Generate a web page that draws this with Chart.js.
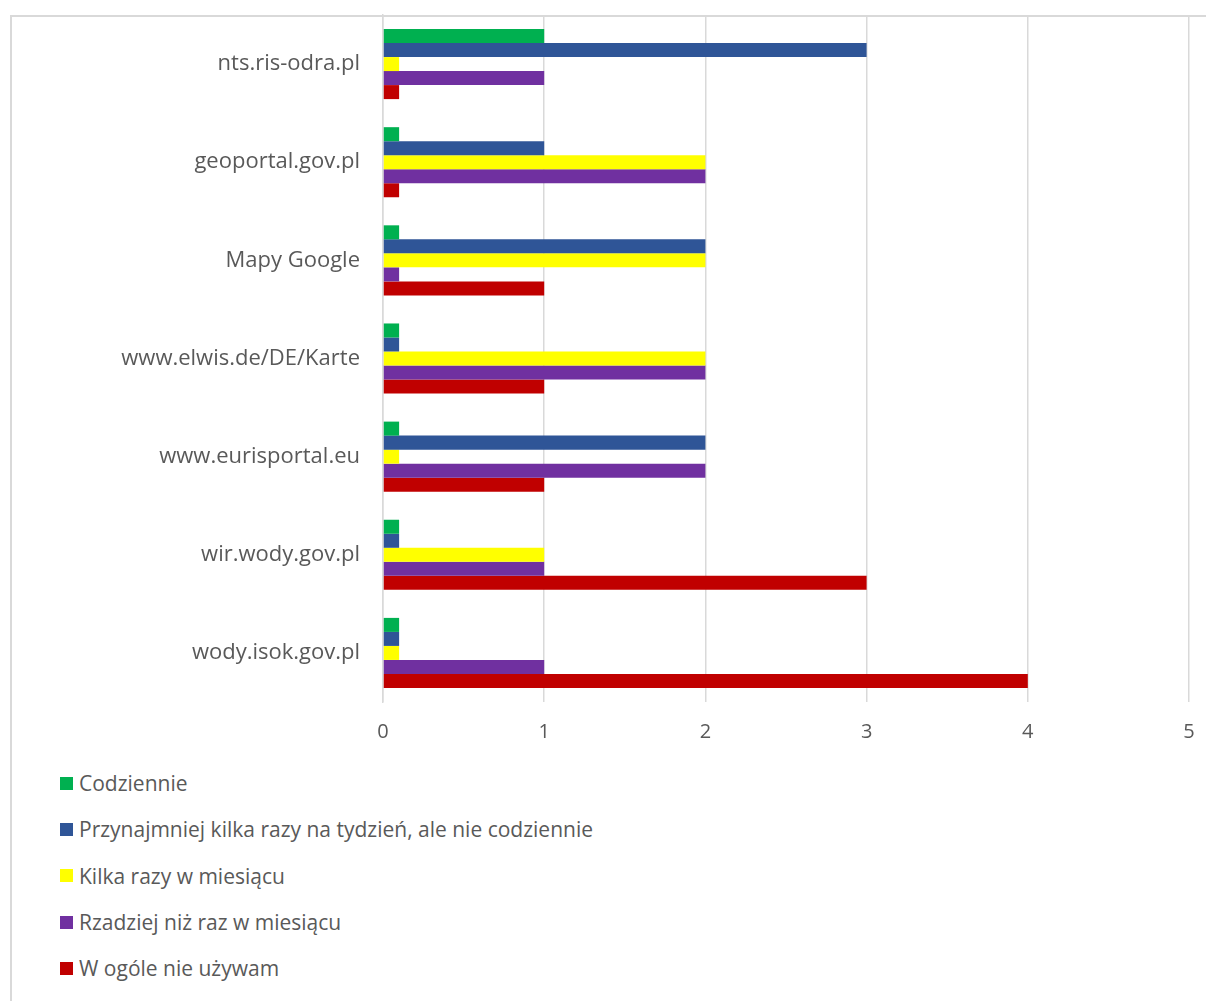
<!DOCTYPE html>
<html>
<head>
<meta charset="utf-8">
<script src="https://cdn.jsdelivr.net/npm/chart.js@4.4.0/dist/chart.umd.min.js"></script>
<style>
    body { margin: 0; background: #fff; font-family: "Open Sans", sans-serif; }
    #ramka { position: absolute; left: 10px; top: 15px; width: 1400px; height: 1200px;
             border-left: 2px solid #d9d9d9; border-top: 2px solid #d9d9d9; }
    #wykres-box { position: absolute; left: 0; top: 0; width: 1206px; height: 760px; }
    #legenda { position: absolute; left: 60px; top: 760px; }
    .leg-item { height: 46.3px; display: flex; align-items: center; color: #595959; font-size: 21px; line-height: 46px; }
    .leg-item span.box { width: 13px; height: 13px; margin-right: 6px; }
</style>
</head>
<body>
<div id="ramka"></div>
<div id="wykres-box"><canvas id="wykres"></canvas></div>
<div id="legenda"></div>
<script>
const kategorie = ["nts.ris-odra.pl", "geoportal.gov.pl", "Mapy Google", "www.elwis.de/DE/Karte",
    "www.eurisportal.eu", "wir.wody.gov.pl", "wody.isok.gov.pl"];
const serie = ["Codziennie", "Przynajmniej kilka razy na tydzień, ale nie codziennie",
    "Kilka razy w miesiącu", "Rzadziej niż raz w miesiącu", "W ogóle nie używam"];
const codziennie = [1, 0.1, 0.1, 0.1, 0.1, 0.1, 0.1];
const kilkaTydzien = [3, 1, 2, 0.1, 2, 0.1, 0.1];
const kilkaMiesiac = [0.1, 2, 2, 2, 0.1, 1, 0.1];
const rzadziej = [1, 2, 0.1, 2, 2, 1, 1];
const wcale = [0.1, 0.1, 1, 1, 1, 3, 4];
const kolory = ["#00B050", "#2F5597", "#FFFF00", "#7030A0", "#C00000"];
const osX = [0, 1, 2, 3, 4, 5];

document.addEventListener("DOMContentLoaded", function() {
    const wartosci = [codziennie, kilkaTydzien, kilkaMiesiac, rzadziej, wcale];
    const datasets = serie.map(function(nazwa, i) {
        return {
            label: nazwa,
            data: wartosci[i],
            backgroundColor: kolory[i],
            borderWidth: 0,
            barPercentage: 1,
            categoryPercentage: 0.714
        };
    });

    const ctx = document.getElementById("wykres").getContext("2d");
    const wykres = new Chart(ctx, {
        type: "bar",
        data: { labels: kategorie, datasets: datasets },
        options: {
            indexAxis: "y",
            responsive: true,
            maintainAspectRatio: false,
            animation: false,
            layout: { padding: { top: 15, right: 17, left: 0, bottom: 0 } },
            plugins: {
                legend: { display: false },
                tooltip: { enabled: false }
            },
            scales: {
                x: {
                    min: osX[0],
                    max: osX[osX.length - 1],
                    ticks: { stepSize: 1, color: "#595959", padding: 18, font: { family: "Open Sans", size: 20 } },
                    grid: { color: "#d9d9d9", lineWidth: 1.5, drawTicks: false },
                    border: { display: false },
                    afterFit: function(scale) {
                        scale.height = 58;
                        scale.paddingLeft = 0;
                        scale.paddingRight = 0;
                    }
                },
                y: {
                    ticks: { color: "#595959", padding: 23, font: { family: "Open Sans", size: 22 } },
                    grid: { display: false, drawTicks: false },
                    border: { display: true, color: "#d9d9d9", width: 1.5 },
                    afterFit: function(scale) {
                        scale.width = 383;
                        scale.paddingTop = 0;
                        scale.paddingBottom = 0;
                    }
                }
            }
        }
    });

    const legenda = document.getElementById("legenda");
    wykres.data.datasets.forEach(function(ds) {
        const div = document.createElement("div");
        div.className = "leg-item";
        div.innerHTML = '<span class="box" style="background:' + ds.backgroundColor + '"></span><span>' + ds.label + '</span>';
        legenda.appendChild(div);
    });
});
</script>
</body>
</html>
